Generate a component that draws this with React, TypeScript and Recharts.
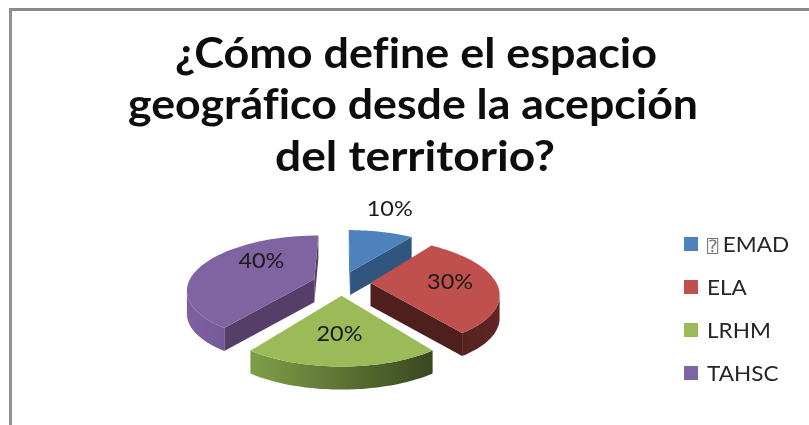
// App.tsx
import React from "react";
import { PieChart, Pie, Legend } from "recharts";

const categories = ["⍰ EMAD", "ELA", "LRHM", "TAHSC"];
const shares = [10, 30, 20, 40];
const titleLines = ["¿Cómo define el espacio", "geográfico desde la acepción", "del territorio?"];

const colors = ["#4f81bd", "#c0504d", "#9bbb59", "#8064a2"];
const cutColors = ["#30557f", "#4e1f1d", "#3f4f22", "#553f69"];
const rimFrom = ["#30557f", "#4e1f1d", "#7f9f47", "#7e60a1"];
const rimTo = ["#30557f", "#5f2523", "#3a4720", "#624a80"];

const FONT = "Lato, sans-serif";
const TILT = 0.42; // squash of the disc
const PERSPECTIVE = 0.18;
const EXPLODE = 0.23;
const DEPTH = 23;

// the original picture was stretched sideways, so the text widths are forced
const titleLayout = [
  { x: 416, y: 68, width: 482 },
  { x: 413, y: 119, width: 570 },
  { x: 415, y: 171, width: 280 },
];

// small offsets for the percent labels, they sit by hand in the original
const labelNudge = [
  [20, -39],
  [4, -3],
  [-2, -2],
  [15, -11],
];

const pieData = categories.map((name, i) => ({ name, value: shares[i], fill: colors[i] }));

function project(cx: number, cy: number, r: number, x: number, y: number) {
  const w = 1 + PERSPECTIVE * y;
  return [cx + (r * x) / w, cy - (r * TILT * y) / w];
}

function Slice3D(props: any) {
  const { cx, cy, outerRadius: r, startAngle, endAngle, midAngle, fill, index } = props;
  const rad = Math.PI / 180;
  const ox = EXPLODE * Math.cos(midAngle * rad);
  const oy = EXPLODE * Math.sin(midAngle * rad);
  const steps = 48;
  const arc: number[][] = [];
  for (let s = 0; s <= steps; s++) {
    const a = (startAngle + ((endAngle - startAngle) * s) / steps) * rad;
    arc.push(project(cx, cy, r, ox + Math.cos(a), oy + Math.sin(a)));
  }
  const apex = project(cx, cy, r, ox, oy);
  const ring = [apex, ...arc, apex];
  const toD = (pts: number[][]) => "M" + pts.map((p) => p[0].toFixed(1) + " " + p[1].toFixed(1)).join("L") + "Z";
  const wall = (pts: number[][]) => [...pts, ...pts.slice().reverse().map((p) => [p[0], p[1] + DEPTH])];

  // only edges going left on screen face the viewer
  const cuts = [
    [apex, arc[0]],
    [arc[steps], apex],
  ].filter((e) => e[1][0] < e[0][0]);
  const rim = arc.filter((p, i) => (i < steps && arc[i + 1][0] < p[0]) || (i > 0 && p[0] < arc[i - 1][0]));
  const xs = arc.map((p) => p[0]);
  const gid = "rim-" + index;

  return (
    <g>
      <defs>
        <linearGradient id={gid} gradientUnits="userSpaceOnUse" x1={Math.min(...xs)} x2={Math.max(...xs)} y1="0" y2="0">
          <stop offset="0%" stopColor={rimFrom[index]} />
          <stop offset="100%" stopColor={rimTo[index]} />
        </linearGradient>
      </defs>
      {cuts.map((e, i) => (
        <path key={i} d={toD(wall(e))} fill={cutColors[index]} />
      ))}
      {rim.length > 1 && <path d={toD(wall(rim))} fill={`url(#${gid})`} />}
      <path d={toD(ring)} fill={fill} />
    </g>
  );
}

function sliceLabel(props: any) {
  const { cx, cy, outerRadius: r, midAngle, index, value } = props;
  const a = (midAngle * Math.PI) / 180;
  const dist = EXPLODE + 0.6;
  const [x, y] = project(cx, cy, r, dist * Math.cos(a), dist * Math.sin(a));
  return (
    <text
      key={index}
      x={x + labelNudge[index][0]}
      y={y + labelNudge[index][1]}
      textAnchor="middle"
      dominantBaseline="central"
      fontFamily={FONT}
      fontSize={21}
      textLength={46}
      lengthAdjust="spacingAndGlyphs"
      fill="#1a1a1a"
    >
      {value}%
    </text>
  );
}

function LegendList({ payload }: any) {
  return (
    <div style={{ fontFamily: FONT, fontSize: 20.5, color: "#262626" }}>
      {(payload || []).map((item: any) => {
        const parts = String(item.value).split(" ");
        return (
          <div key={item.value} style={{ display: "flex", alignItems: "center", height: 43 }}>
            <span style={{ width: 14, height: 14, background: item.color, marginRight: 9 }} />
            <span style={{ transform: "scaleX(1.1)", transformOrigin: "left center", whiteSpace: "nowrap" }}>
              {parts.length > 1 && (
                <span style={{ fontFamily: "DejaVu Sans Mono", fontSize: 17, color: "#777", marginRight: 4 }}>{parts[0]}</span>
              )}
              {parts[parts.length - 1]}
            </span>
          </div>
        );
      })}
    </div>
  );
}

export default function App() {
  return (
    <div style={{ position: "absolute", left: 0, top: 0, width: 809, height: 425, background: "#fff", overflow: "hidden" }}>
      <div
        style={{
          position: "absolute",
          left: 9,
          top: 8,
          right: -5,
          bottom: -5,
          borderLeft: "3px solid #8f8f8f",
          borderTop: "3px solid #8a8a8a",
        }}
      />
      <div style={{ position: "absolute", left: 0, top: 0, filter: "blur(0.4px)" }}>
        <PieChart width={809} height={425} margin={{ top: 0, right: 0, bottom: 0, left: 0 }}>
          {titleLines.map((line, i) => (
            <text
              key={line}
              x={titleLayout[i].x}
              y={titleLayout[i].y}
              textAnchor="middle"
              fontFamily={FONT}
              fontWeight={700}
              fontSize={42}
              textLength={titleLayout[i].width}
              lengthAdjust="spacingAndGlyphs"
              fill="#0d0d0d"
              style={{ fontVariantLigatures: "none" }}
            >
              {line}
            </text>
          ))}
          <Pie
            data={pieData}
            dataKey="value"
            nameKey="name"
            cx={341.5}
            cy={283}
            innerRadius={0}
            outerRadius={126}
            startAngle={90}
            endAngle={-270}
            stroke="none"
            shape={Slice3D}
            label={sliceLabel}
            labelLine={false}
            isAnimationActive={false}
          />
          <Legend
            layout="vertical"
            align="right"
            verticalAlign="top"
            itemSorter={null}
            wrapperStyle={{ left: 684, top: 222, width: 120 }}
            content={<LegendList />}
          />
        </PieChart>
      </div>
    </div>
  );
}
